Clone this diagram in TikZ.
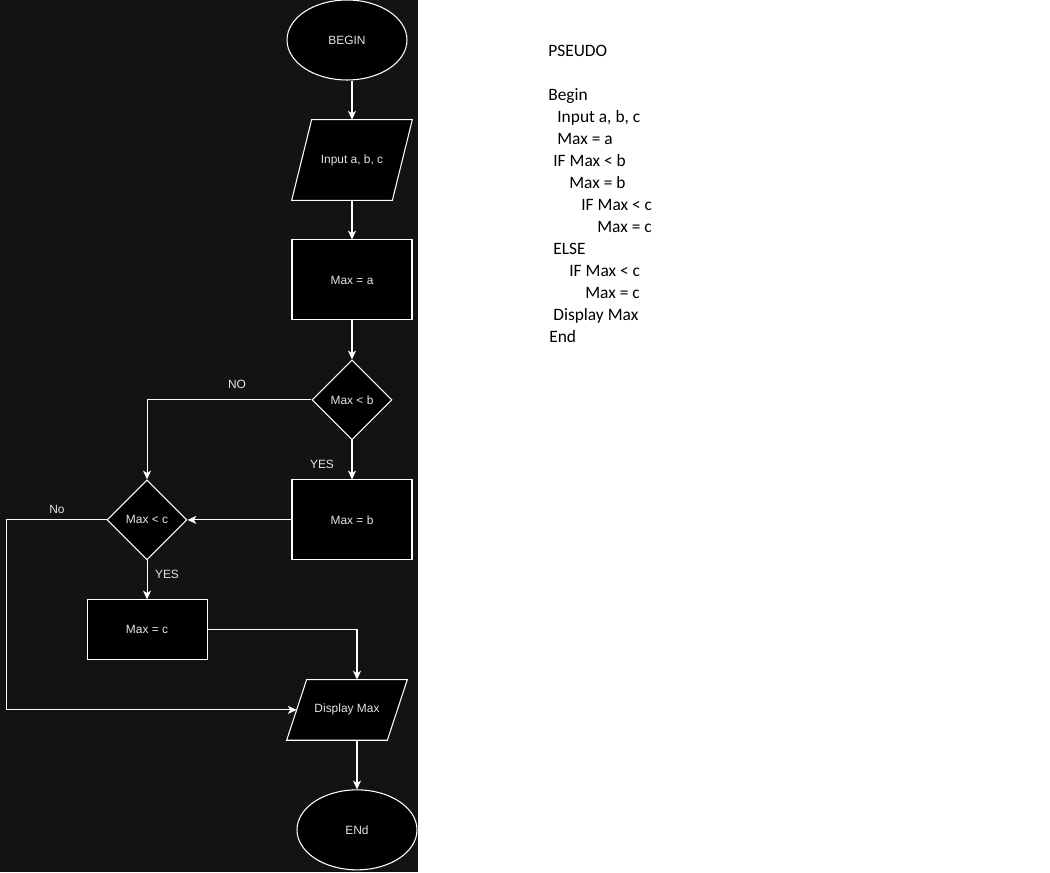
\documentclass[tikz,border=0pt]{standalone}
\usepackage{fontspec}
\setmainfont{Liberation Sans}
\newfontfamily\pseudofont{Carlito}
\usetikzlibrary{arrows.meta,positioning,shapes.geometric}

\definecolor{panel}{RGB}{19,19,19}
\definecolor{softwhite}{RGB}{228,228,228}

\pgfdeclarelayer{backdrop}
\pgfdeclarelayer{outlines}
\pgfsetlayers{backdrop,outlines,main}

\begin{document}
\begin{tikzpicture}
        [x=0.02cm, y=-0.02cm,
        on grid,
        >={Stealth[length=5pt, width=4.6pt, inset=1.4pt]},
        every node/.style={font=\fontsize{6.8}{8}\selectfont, text=softwhite},
        flow/.style={draw=white, line width=0.6pt, fill=black, inner sep=0pt},
        terminal/.style={flow, ellipse, minimum width=2.4cm, minimum height=1.6cm},
        process/.style={flow, rectangle, minimum width=2.4cm, minimum height=1.6cm},
        decision/.style={flow, diamond, minimum width=1.6cm, minimum height=1.6cm},
        io/.style={rectangle, inner sep=0pt, minimum width=2cm, minimum height=1.6cm},
        lbl/.style={inner sep=0pt},
        pseudo/.style={anchor=base west, inner sep=0pt, text=black, font=\pseudofont\fontsize{9.9}{11}\selectfont},
        link/.style={->, draw=white, line width=0.6pt}]

        \useasboundingbox (0,0) rectangle (1050,872);
        \begin{pgfonlayer}{backdrop}
                \fill[white] (0,0) rectangle (1050,872);
                \fill[panel] (0,0) rectangle (418,872);
        \end{pgfonlayer}

        \node[terminal] (start) at (347,40) {BEGIN};
        \node[io] (inp) [below=2.4cm of start, xshift=0.1cm] {Input a, b, c};
        \node[process] (maxa) [below=2.4cm of inp] {Max = a};
        \node[decision] (ifb) [below=2.4cm of maxa] {Max {\textless} b};
        \node[process] (maxb) [below=2.4cm of ifb] {Max = b};
        \node[decision] (ifc) [left=4.1cm of maxb] {Max {\textless} c};
        \node[process, minimum height=1.2cm] (maxc) [below=2.2cm of ifc] {Max = c};
        \node[io, minimum height=1.2cm] (disp) [below right=1.6cm and 4cm of maxc] {Display Max};
        \node[terminal] (stop) [below=2.4cm of disp, xshift=0.2cm] {ENd};

        % slanted outlines of the input/output boxes
        \begin{pgfonlayer}{outlines}
                \foreach \n in {inp, disp}
                        \draw[flow] ([xshift=0.2cm]\n.north west) -- ([xshift=0.2cm]\n.north east)
                                -- ([xshift=-0.2cm]\n.south east) -- ([xshift=-0.2cm]\n.south west) -- cycle;
        \end{pgfonlayer}

        \node[lbl] (nob) at (237,384.5) {NO};
        \node[lbl] (yesb) at (322,464.5) {YES};
        \node[lbl] (noc) at (57,509) {No};
        \node[lbl] (yesc) at (167,574) {YES};

        \draw[link] (inp.north |- start.south) -- (inp.north);
        \draw[link] (inp) -- (maxa);
        \draw[link] (maxa) -- (ifb);
        \draw[link] (ifb) -- (maxb);
        \draw[link] (ifb) -| (ifc);
        \draw[link] (maxb) -- (ifc);
        \draw[link] (ifc) -- (maxc);
        \draw[link] (ifc.west) -- ++(-2cm,0) |- (disp.west);
        \draw[link] (maxc) -| (disp.north -| stop.north);
        \draw[link] (stop.north |- disp.south) -- (stop.north);

        % pseudo code
        \foreach \x/\y/\t [count=\i] in {548/56.7/PSEUDO, 548/100.7/Begin, 557/122.7/{Input a, b, c},
                557/144.7/{Max = a}, 553/166.7/{IF Max < b}, 569/188.7/{Max = b},
                581/210.7/{IF Max < c}, 597/232.7/{Max = c}, 553/254.7/ELSE,
                569/276.7/{IF Max < c}, 585/298.7/{Max = c}, 553/320.7/{Display Max}, 549/342.7/End}
                \node[pseudo] (ps\i) at (\x,\y) {\t};
\end{tikzpicture}
\end{document}
